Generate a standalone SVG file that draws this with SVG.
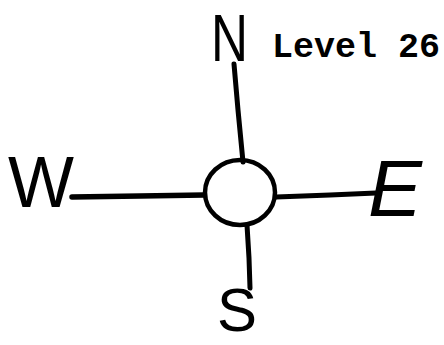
<svg xmlns="http://www.w3.org/2000/svg" width="444" height="345" viewBox="0 0 444 345">
<style>
.ln{stroke:#000;fill:none;stroke-linecap:round;stroke-linejoin:round}
.hand{font-family:"Liberation Sans",Arial,sans-serif;fill:#000}
.lbl{font-family:"Liberation Mono","Courier New",monospace;font-weight:bold;font-size:35px;fill:#000}
</style>
<rect width="444" height="345" fill="#fff"/>
<g id="connectors">
<path class="ln" d="M234,64 L238,110 L243,162" stroke-width="5"/>
<path class="ln" d="M72,197 L140,196 L204,195" stroke-width="5.5"/>
<path class="ln" d="M276,197 L330,195 L376,193" stroke-width="5"/>
<path class="ln" d="M247,225 L249,258 L250,288" stroke-width="5"/>
</g>
<g id="center">
<ellipse class="ln" cx="240" cy="192.5" rx="35" ry="32.5" stroke-width="4.5"/>
</g>
<g id="north">
<text class="hand" x="211" y="61" font-size="67" textLength="37" lengthAdjust="spacingAndGlyphs">N</text>
</g>
<g id="west">
<text class="hand" x="8" y="207" font-size="72" textLength="66" lengthAdjust="spacingAndGlyphs">W</text>
</g>
<g id="east">
<text class="hand" x="368" y="216" font-size="80" font-style="italic" textLength="54" lengthAdjust="spacingAndGlyphs">E</text>
</g>
<g id="south">
<text class="hand" x="217" y="331" font-size="62" textLength="40" lengthAdjust="spacingAndGlyphs">S</text>
</g>
<g id="level">
<text class="lbl" x="272" y="57">Level 26</text>
</g>
</svg>
